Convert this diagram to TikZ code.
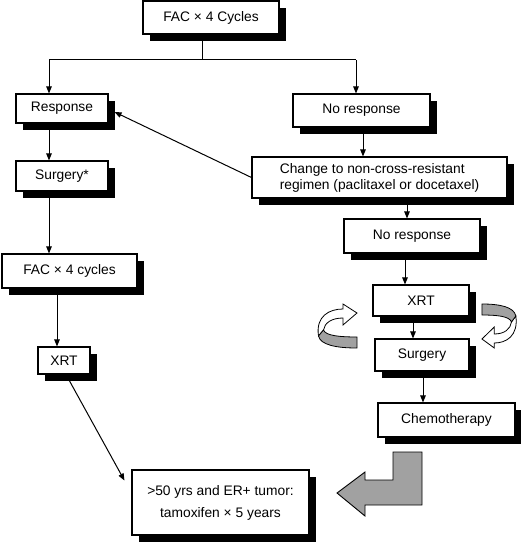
\documentclass[tikz,border=0pt]{standalone}
\usepackage{fontspec}
\setmainfont{Liberation Sans}
\usetikzlibrary{arrows.meta,shadows}
\newcommand\curlArrowShape{%
  \draw[line width=0.8pt, fill=white] (-18,10) .. controls (-21,-10) and (-7,-17) .. (6.5,-17) -- (6.5,-22) -- (20.5,-13) -- (6.5,-1) -- (6.5,-8) .. controls (-5,-8) and (-12,-3) .. (-13,4) -- cycle;
  \draw[line width=0.8pt, fill=black!37] (-13,4) .. controls (-11,10) and (5,11) .. (20.5,11) -- (20.5,22) .. controls (0,22) and (-16,19) .. (-18,10) -- cycle;}
\begin{document}
\begin{tikzpicture}[x=1pt,y=-1pt,
  box/.style={draw, fill=white, line width=1.1pt, inner sep=0pt,
    font=\fontsize{13.8}{16}\selectfont,
    drop shadow={shadow xshift=6.5pt, shadow yshift=-7pt, fill=black, opacity=1}},
  ln/.style={line width=1pt},
  arr/.style={line width=1pt, -{Triangle[length=7pt,width=5.5pt]}}]
\useasboundingbox (0,0) rectangle (520,545);
% boxes
\node[box, minimum width=136pt, minimum height=33pt] (fac) at (211,17.5) {FAC × 4 Cycles};
\node[box, minimum width=92pt, minimum height=29pt] (resp) at (62,108.5) {Response};
\node[box, minimum width=137pt, minimum height=33pt] (noresp) at (361.5,110.5) {No response};
\node[box, minimum width=255pt, minimum height=41pt, align=left] (change) at (379.5,177.5) {Change to non-cross-resistant\\regimen (paclitaxel or docetaxel)};
\node[box, minimum width=92pt, minimum height=30pt] (surgA) at (62,176) {Surgery*};
\node[box, minimum width=136pt, minimum height=34pt] (norespB) at (412,236) {No response};
\node[box, minimum width=96pt, minimum height=31pt] (xrtB) at (421,300.5) {XRT};
\node[box, minimum width=94pt, minimum height=32pt] (surgB) at (422,355) {Surgery};
\node[box, minimum width=137pt, minimum height=34pt] (chemo) at (446.5,420) {Chemotherapy};
\node[box, minimum width=135pt, minimum height=34pt] (facB) at (69.5,271) {FAC × 4 cycles};
\node[box, minimum width=52pt, minimum height=27pt] (xrtA) at (64,360.5) {XRT};
\node[box, minimum width=177pt, minimum height=65pt, align=center,
  font=\fontsize{13.8}{22}\selectfont] (final) at (220.5,502.5) {>50 yrs and ER+ tumor:\\tamoxifen × 5 years};
% connectors
\coordinate (split) at (202,60);
\coordinate (lt) at (49,60);
\coordinate (rt) at (356,60);
\coordinate (cx1) at (363,0);
\coordinate (cx2) at (407,0);
\coordinate (cx3) at (405,0);
\coordinate (cx4) at (413,0);
\coordinate (cx5) at (423,0);
\coordinate (cx6) at (57,0);
\draw[ln] (fac.south -| split) -- (split);
\draw[ln] (lt) -- (rt);
\draw[arr] (lt) -- (resp.north -| lt);
\draw[arr] (rt) -- (noresp.north -| rt);
\draw[arr] (noresp.south -| cx1) -- (change.north -| cx1);
\draw[arr] (change.west) -- ([shift={(6,3.5)}]resp.east);
\draw[arr] (resp.south -| lt) -- (surgA.north -| lt);
\draw[arr] (surgA.south -| lt) -- (facB.north -| lt);
\draw[arr] (facB.south -| cx6) -- (xrtA.north -| cx6);
\draw[arr] ([xshift=2pt]xrtA.south) -- ([shift={(-7,-22)}]final.west);
\draw[arr] (change.south -| cx2) -- (norespB.north -| cx2);
\draw[arr] (norespB.south -| cx3) -- (xrtB.north -| cx3);
\draw[arr] (xrtB.south -| cx4) -- (surgB.north -| cx4);
\draw[arr] (surgB.south -| cx5) -- (chemo.north -| cx5);
% big L arrow
\draw[line width=0.9pt, fill=black!37] (393,452) -- (422,452) -- (422,505) -- (365,505) -- (365,516) -- (337,493) -- (365,472) -- (365,480) -- (393,480) -- cycle;
% curled arrows
\begin{scope}[shift={(336.5,326)}]
\curlArrowShape
\end{scope}
\begin{scope}[shift={(500,326)}, rotate=180, xscale=0.88]
\curlArrowShape
\end{scope}
\end{tikzpicture}
\end{document}
